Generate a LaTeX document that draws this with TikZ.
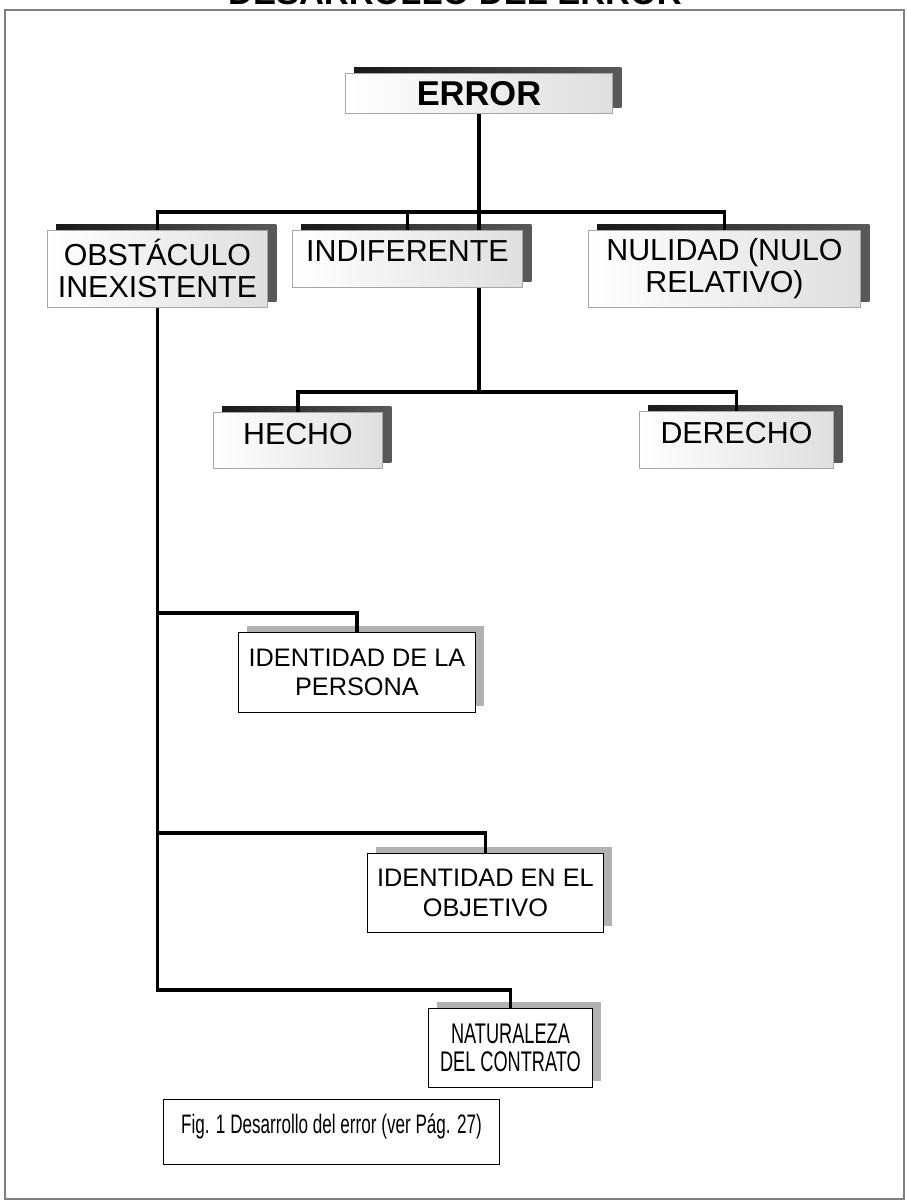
\documentclass[tikz,border=0pt]{standalone}
\usepackage{fontspec}
\setmainfont{Liberation Sans}
\newfontfamily\angosta[FakeStretch=0.64]{Liberation Sans}
\usepackage{tikz}
\usetikzlibrary{shadows}

\tikzset{
  linea/.style={line width=2.5pt, line join=miter},
  caja/.style={draw=gray!70, line width=0.6pt, inner sep=0pt, align=center,
    left color=white, right color=gray!25, anchor=north west,
    font=\fontsize{21.6}{22.8}\selectfont,
    drop shadow={shadow xshift=0.22cm, shadow yshift=0.15cm, left color=black!90, right color=black!65, opacity=1}},
  cajab/.style={draw=black, line width=0.6pt, inner sep=0pt, align=center,
    fill=white, anchor=north west,
    font=\fontsize{18}{21.3}\selectfont,
    drop shadow={shadow xshift=0.22cm, shadow yshift=0.16cm, fill=gray!60, opacity=1}}
}

\begin{document}
\begin{tikzpicture}[x=0.025cm, y=-0.025cm]
\useasboundingbox (0,0) rectangle (906,1201);
\draw[gray, line width=0.8pt] (5,10) rectangle (904,1199);
% titulo (cortado arriba)
\node[anchor=base, font=\fontsize{24.5}{26}\selectfont\bfseries] (tit) at (455,5) {DESARROLLO DEL ERROR};

% cajas
\node[caja, minimum width=6.675cm, minimum height=1.0cm, font=\fontsize{24.5}{26}\selectfont\bfseries] (err) at (345,73) {ERROR};
\node[caja, minimum width=5.5cm, minimum height=1.925cm] (obs) at (47,230) {OBSTÁCULO\\INEXISTENTE};
\node[caja, minimum width=5.75cm, text height=0.775cm, text depth=0.65cm] (ind) at (292,230) {INDIFERENTE};
\node[caja, minimum width=6.8cm, minimum height=1.925cm] (nul) at (588,230) {NULIDAD (NULO\\RELATIVO)};
\node[caja, minimum width=4.225cm, text height=0.8cm, text depth=0.6cm] (hec) at (213,412) {HECHO};
\node[caja, minimum width=4.85cm, text height=0.8cm, text depth=0.625cm] (der) at (639,411) {DERECHO};
\node[cajab, minimum width=5.925cm, minimum height=2.0cm] (per) at (238,632) {IDENTIDAD DE LA\\PERSONA};
\node[cajab, minimum width=5.9cm, minimum height=1.975cm] (obj) at (367,853) {IDENTIDAD EN EL\\OBJETIVO};
\node[cajab, minimum width=4.1cm, minimum height=1.975cm, font=\angosta\fontsize{20.2}{20.5}\selectfont] (nat) at (428,1008) {NATURALEZA\\DEL CONTRATO};
\node[draw=black, line width=0.6pt, inner sep=0pt, anchor=north west, minimum width=8.4cm,
  text height=0.85cm, text depth=0.775cm, font=\angosta\fontsize{19}{20}\selectfont] (fig) at (163,1099) {Fig. 1 Desarrollo del error (ver Pág. 27)};

% niveles de las barras
\coordinate (b1) at (0,212);
\coordinate (b2) at (0,392);
\coordinate (b3) at (0,613);
\coordinate (b4) at (0,833);
\coordinate (b5) at (0,990);

% conectores
\draw[linea] (err.south) -- (err.south |- ind.north);
\draw[linea] (obs.north) |- (b1 -| nul.north) -- (nul.north);
\draw[linea] (ind.north) -- (ind.north |- b1);
\draw[linea] (err.south |- ind.south) -- (err.south |- b2);
\draw[linea] (hec.north) |- (b2 -| der.north) -- (der.north);
\draw[linea] (obs.south) -- (obs.south |- b5) -| (nat.north);
\draw[linea] (obs.south |- b3) -| (per.north);
\draw[linea] (obs.south |- b4) -| (obj.north);
\end{tikzpicture}
\end{document}
